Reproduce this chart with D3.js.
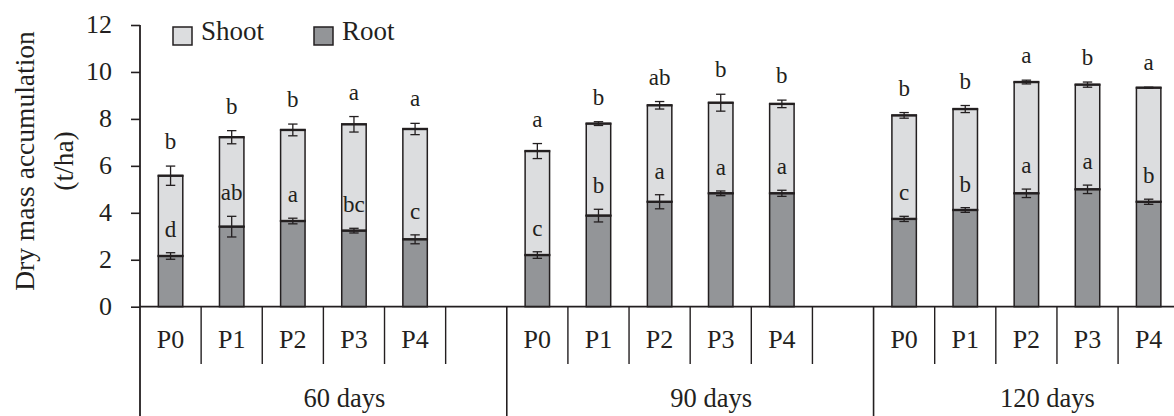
<!DOCTYPE html>
<html>
<head>
<meta charset="utf-8">
<script src="https://cdn.jsdelivr.net/npm/d3@7"></script>
<style>
  body { margin: 0; background: #fff; }
  text { font-family: "Liberation Serif", "Times New Roman", serif; fill: #231f20; }
</style>
</head>
<body>
<div id="chart"></div>
<script>
//////////////////////////////////////////////////////////////////////////////
// Data

var periods = ["60 days", "90 days", "120 days"];
var treatments = ["P0", "P1", "P2", "P3", "P4"];

var root60  = [2.16, 3.41, 3.65, 3.24, 2.87];
var root90  = [2.20, 3.88, 4.47, 4.83, 4.83];
var root120 = [3.74, 4.12, 4.83, 5.00, 4.47];

var shoot60  = [3.42, 3.81, 3.88, 4.53, 4.70];
var shoot90  = [4.43, 3.92, 4.11, 3.86, 3.81];
var shoot120 = [4.41, 4.30, 4.74, 4.46, 4.86];

var rootErr60  = [0.14, 0.44, 0.12, 0.10, 0.19];
var rootErr90  = [0.14, 0.27, 0.30, 0.10, 0.13];
var rootErr120 = [0.11, 0.10, 0.18, 0.18, 0.11];

var totalErr60  = [0.41, 0.28, 0.25, 0.33, 0.24];
var totalErr90  = [0.32, 0.08, 0.16, 0.36, 0.16];
var totalErr120 = [0.12, 0.15, 0.08, 0.11, 0.02];

var rootLetters60  = ["d", "ab", "a", "bc", "c"];
var rootLetters90  = ["c", "b", "a", "a", "a"];
var rootLetters120 = ["c", "b", "a", "a", "b"];

var totalLetters60  = ["b", "b", "b", "a", "a"];
var totalLetters90  = ["a", "b", "ab", "b", "b"];
var totalLetters120 = ["b", "b", "a", "b", "a"];

var yTicks = [0, 2, 4, 6, 8, 10, 12];

//////////////////////////////////////////////////////////////////////////////
// Preliminaries

var width = 1174, height = 416;
var left = 140, top0 = 25, base = 306.7;
var slot = 61.13;
var ink = "#231f20";

var roots = [root60, root90, root120];
var shoots = [shoot60, shoot90, shoot120];
var rootErrs = [rootErr60, rootErr90, rootErr120];
var totalErrs = [totalErr60, totalErr90, totalErr120];
var rootLetters = [rootLetters60, rootLetters90, rootLetters120];
var totalLetters = [totalLetters60, totalLetters90, totalLetters120];

// categories: 5 treatments + a blank slot after each period, except the last
var cats = [];
periods.forEach(function(p, gi) {
    treatments.forEach(function(t) { cats.push(p + "|" + t); });
    if (gi < periods.length - 1) cats.push(p + "|blank");
});

var data = [];
periods.forEach(function(p, gi) {
    treatments.forEach(function(t, i) {
        var r = roots[gi][i], s = shoots[gi][i];
        data.push({
            key: p + "|" + t, label: t,
            root: r, total: r + s,
            rootErr: rootErrs[gi][i], totalErr: totalErrs[gi][i],
            rootLetter: rootLetters[gi][i], totalLetter: totalLetters[gi][i]
        });
    });
});

var xScale = d3.scaleBand().domain(cats).range([left, left + cats.length * slot]).padding(0);
var yScale = d3.scaleLinear().domain([0, 12]).range([base, top0]);
var barW = xScale.bandwidth() * 0.4;

function cx(d) { return xScale(d.key) + xScale.bandwidth() / 2; }

var svg = d3.select("#chart").append("svg")
    .attr("width", width)
    .attr("height", height);

//////////////////////////////////////////////////////////////////////////////
// Bars

var bars = svg.append("g").selectAll("g").data(data).enter().append("g");

bars.append("rect")
    .attr("x", function(d) { return cx(d) - barW / 2; })
    .attr("y", function(d) { return yScale(d.total); })
    .attr("width", barW)
    .attr("height", function(d) { return yScale(d.root) - yScale(d.total); })
    .attr("fill", "#dcdddf")
    .attr("stroke", ink)
    .attr("stroke-width", 1.5);

bars.append("rect")
    .attr("x", function(d) { return cx(d) - barW / 2; })
    .attr("y", function(d) { return yScale(d.root); })
    .attr("width", barW)
    .attr("height", function(d) { return base - yScale(d.root); })
    .attr("fill", "#939598")
    .attr("stroke", ink)
    .attr("stroke-width", 1.5);

// thicker top edges
["root", "total"].forEach(function(k) {
    bars.append("line")
        .attr("x1", function(d) { return cx(d) - barW / 2 - 0.7; })
        .attr("x2", function(d) { return cx(d) + barW / 2 + 0.7; })
        .attr("y1", function(d) { return yScale(d[k]); })
        .attr("y2", function(d) { return yScale(d[k]); })
        .attr("stroke", ink)
        .attr("stroke-width", 2.4);
});

// error bars
function errBar(valKey, errKey) {
    var g = bars.append("g").attr("stroke", ink).attr("stroke-width", 1.3);
    g.append("line")
        .attr("x1", cx).attr("x2", cx)
        .attr("y1", function(d) { return yScale(d[valKey] + d[errKey]); })
        .attr("y2", function(d) { return yScale(d[valKey] - d[errKey]); });
    [1, -1].forEach(function(sgn) {
        g.append("line")
            .attr("x1", function(d) { return cx(d) - 4.7; })
            .attr("x2", function(d) { return cx(d) + 4.7; })
            .attr("y1", function(d) { return yScale(d[valKey] + sgn * d[errKey]); })
            .attr("y2", function(d) { return yScale(d[valKey] + sgn * d[errKey]); });
    });
}
errBar("root", "rootErr");
errBar("total", "totalErr");

// significance letters
bars.append("text")
    .attr("x", cx)
    .attr("y", function(d) { return yScale(d.total + d.totalErr) - 17; })
    .attr("text-anchor", "middle")
    .attr("font-size", 23)
    .text(function(d) { return d.totalLetter; });

bars.append("text")
    .attr("x", cx)
    .attr("y", function(d) { return yScale(d.root + d.rootErr) - 16; })
    .attr("text-anchor", "middle")
    .attr("font-size", 23)
    .text(function(d) { return d.rootLetter; });

//////////////////////////////////////////////////////////////////////////////
// Axes

var yAxis = d3.axisLeft(yScale).tickValues(yTicks).tickSize(9).tickSizeOuter(0).tickPadding(19);
var yg = svg.append("g").attr("transform", "translate(" + left + ",0)").call(yAxis);
yg.select(".domain").remove();
yg.selectAll(".tick line").attr("stroke", ink).attr("stroke-width", 1.6);
yg.selectAll(".tick text")
    .attr("font-family", "Liberation Serif, serif")
    .attr("font-size", 26)
    .attr("fill", ink)
    .attr("dy", "0.3em");

svg.append("line")
    .attr("x1", left).attr("x2", left)
    .attr("y1", yScale(12)).attr("y2", height)
    .attr("stroke", ink).attr("stroke-width", 1.8);

svg.append("line")
    .attr("x1", left).attr("x2", width)
    .attr("y1", base).attr("y2", base)
    .attr("stroke", ink).attr("stroke-width", 1.8);

// category separators
var xg = svg.append("g").attr("stroke", ink);
cats.forEach(function(c, i) {
    if (i === 0) return;
    var groupStart = c.split("|")[1] === "P0";
    xg.append("line")
        .attr("x1", xScale(c)).attr("x2", xScale(c))
        .attr("y1", base).attr("y2", groupStart ? height : 364)
        .attr("stroke-width", groupStart ? 1.6 : 1.4);
});
// closing separator after the last bar
xg.append("line")
    .attr("x1", xScale.range()[1]).attr("x2", xScale.range()[1])
    .attr("y1", base).attr("y2", 364)
    .attr("stroke-width", 1.4);

svg.append("g").selectAll("text").data(data).enter().append("text")
    .attr("x", cx)
    .attr("y", 348)
    .attr("text-anchor", "middle")
    .attr("font-size", 26)
    .text(function(d) { return d.label; });

svg.append("g").selectAll("text").data(periods).enter().append("text")
    .attr("x", function(p) {
        var ks = cats.filter(function(c) { return c.split("|")[0] === p; });
        var a = xScale(ks[0]), b = xScale(ks[ks.length - 1]) + xScale.bandwidth();
        return (a + b) / 2 + 21;
    })
    .attr("y", 407)
    .attr("text-anchor", "middle")
    .attr("font-size", 26.5)
    .text(function(p) { return p; });

// y title
var yt = svg.append("text")
    .attr("transform", "translate(24,161) rotate(-90)")
    .attr("text-anchor", "middle")
    .attr("font-size", 27.5);
yt.append("tspan").attr("x", 0).attr("y", 0).attr("dy", "0.35em").text("Dry mass accumulation");
yt.append("tspan").attr("x", 0).attr("y", 39).attr("dy", "0.35em").text("(t/ha)");

//////////////////////////////////////////////////////////////////////////////
// Legend

var legend = svg.append("g").selectAll("g")
    .data([{ name: "Shoot", fill: "#dcdddf", x: 173 }, { name: "Root", fill: "#939598", x: 314 }])
    .enter().append("g")
    .attr("transform", function(d) { return "translate(" + d.x + ",27)"; });

legend.append("rect")
    .attr("width", 19).attr("height", 18)
    .attr("fill", function(d) { return d.fill; })
    .attr("stroke", ink).attr("stroke-width", 1.5);

legend.append("text")
    .attr("x", 28).attr("y", 12.5)
    .attr("font-size", 27)
    .text(function(d) { return d.name; });
</script>
</body>
</html>
